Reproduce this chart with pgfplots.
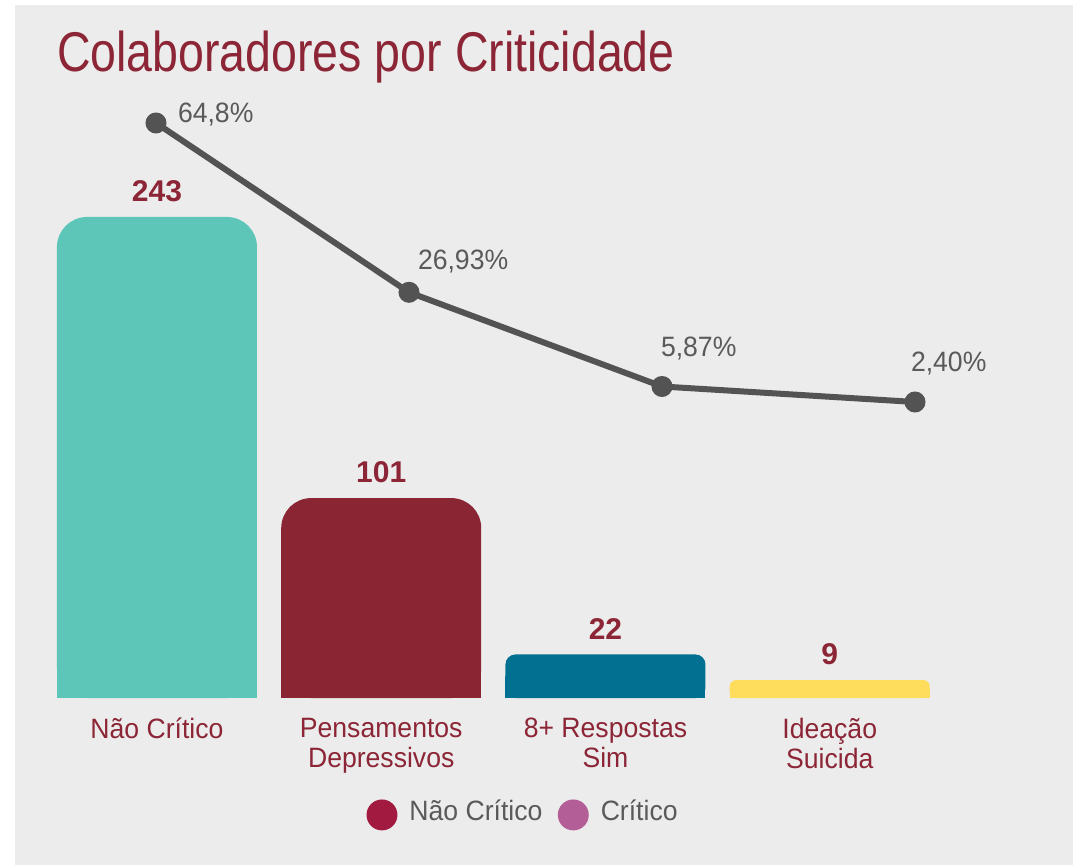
\documentclass[border=0pt]{standalone}
\usepackage{pgfplots}
\pgfplotsset{compat=1.18}
\usepackage{pgfplotstable}
\usepackage{fontspec}
\setmainfont{Liberation Sans}
\newfontfamily\titlefont[FakeStretch=0.83]{Liberation Sans}
\newfontfamily\labfont[FakeStretch=0.95]{Liberation Sans}

\definecolor{bggray}{HTML}{ECECEC}
\definecolor{titlered}{HTML}{8C2636}
\definecolor{barteal}{HTML}{5DC6B8}
\definecolor{barred}{HTML}{8A2633}
\definecolor{barblue}{HTML}{027090}
\definecolor{baryellow}{HTML}{FFDD5C}
\definecolor{linegray}{HTML}{535353}
\definecolor{pctgray}{HTML}{5A5A5A}
\definecolor{legred}{HTML}{A31A41}
\definecolor{legpink}{HTML}{B35E96}

\pgfplotstableread{
x y lbl dx dy
0 64.8 64,8 19 0
1 26.93 26,93 6 23
2 5.87 5,87 -4 30
3 2.40 2,40 -7 30
}\linetab

\begin{document}
\begin{tikzpicture}[x=0.75pt,y=0.75pt]
\useasboundingbox (0,0) rectangle (1076,865);
\fill[white] (0,0) rectangle (1076,865);
\fill[bggray] (15,0) rectangle (1073,860);
\node[anchor=base west, inner sep=0pt, text=titlered, font=\titlefont\fontsize{42}{48}\selectfont] at (57,793) {Colaboradores por Criticidade};

\begin{axis}[
  at={(33.64pt,125.25pt)}, anchor=south west,
  scale only axis, width=672.75pt, height=360.75pt,
  xmin=-0.5, xmax=3.5, ymin=0, ymax=243,
  axis line style={draw=none}, major tick length=0pt,
  ytick=\empty, xtick={0,1,2,3},
  xticklabels={N\~ao Cr\'itico, {Pensamentos\\Depressivos}, {8+ Respostas\\Sim}, {Idea\c{c}\~ao\\Suicida}},
  xticklabel style={align=center, inner sep=0pt, anchor=north, yshift=-15pt, text=titlered, font=\labfont\fontsize{21}{22.5}\selectfont},
  clip=false,
  /pgf/number format/assume math mode=true,
  legend columns=2,
  legend image code/.code={\fill[#1, draw=none] (0pt,-3pt) circle (11.6pt);},
  legend style={at={(0.5335,-0.2405)}, anchor=center, draw=none, fill=none, inner sep=0pt,
    column sep=7pt, /tikz/every even column/.append style={column sep=9.5pt},
    font=\labfont\fontsize{21}{22.5}\selectfont, text=pctgray},
]
% rounded bars
\addplot[ybar, forget plot, bar width=0.892, bar shift=0pt, draw=none, fill=barteal, rounded corners=22.5pt,
  nodes near coords, nodes near coords style={anchor=south, inner sep=0pt, yshift=11.25pt, text=titlered, font=\bfseries\fontsize{22.5}{27}\selectfont}]
  coordinates {(0,243)};
\addplot[ybar, forget plot, bar width=0.892, bar shift=0pt, draw=none, fill=barteal, y filter/.expression={y/2}]
  coordinates {(0,243)};
\addplot[ybar, forget plot, bar width=0.892, bar shift=0pt, draw=none, fill=barred, rounded corners=22.5pt,
  nodes near coords, nodes near coords style={anchor=south, inner sep=0pt, yshift=11.25pt, text=titlered, font=\bfseries\fontsize{22.5}{27}\selectfont}]
  coordinates {(1,101)};
\addplot[ybar, forget plot, bar width=0.892, bar shift=0pt, draw=none, fill=barred, y filter/.expression={y/2}]
  coordinates {(1,101)};
\addplot[ybar, forget plot, bar width=0.892, bar shift=0pt, draw=none, fill=barblue, rounded corners=7.5pt,
  nodes near coords, nodes near coords style={anchor=south, inner sep=0pt, yshift=11.25pt, text=titlered, font=\bfseries\fontsize{22.5}{27}\selectfont}]
  coordinates {(2,22)};
\addplot[ybar, forget plot, bar width=0.892, bar shift=0pt, draw=none, fill=barblue, y filter/.expression={y/2}]
  coordinates {(2,22)};
\addplot[ybar, forget plot, bar width=0.892, bar shift=0pt, draw=none, fill=baryellow, rounded corners=4.5pt,
  nodes near coords, nodes near coords style={anchor=south, inner sep=0pt, yshift=11.25pt, text=titlered, font=\bfseries\fontsize{22.5}{27}\selectfont}]
  coordinates {(3,9)};
\addplot[ybar, forget plot, bar width=0.892, bar shift=0pt, draw=none, fill=baryellow, y filter/.expression={y/2}]
  coordinates {(3,9)};
\addlegendimage{fill=legred}
\addlegendentry{N\~ao Cr\'itico}
\addlegendimage{fill=legpink}
\addlegendentry{Cr\'itico}
\end{axis}

\begin{axis}[
  at={(117pt,339.2pt)}, anchor=south west,
  scale only axis, width=569.25pt, height=217.3pt,
  xmin=0, xmax=3, ymin=0, ymax=64.8,
  hide axis, clip=false,
]
\addplot[linegray, line width=4.5pt, mark=*, mark size=5.6pt, mark options={draw=none, fill=linegray},
  point meta=explicit symbolic,
  visualization depends on={\thisrow{dx}\as\dx},
  visualization depends on={\thisrow{dy}\as\dy},
  nodes near coords={\pgfplotspointmeta\%},
  nodes near coords style={anchor=base west, inner sep=0pt, xshift=\dx*0.75pt, yshift=\dy*0.75pt, text=pctgray, font=\labfont\fontsize{21}{25}\selectfont}]
  table[x=x, y=y, meta=lbl] {\linetab};
\end{axis}
\end{tikzpicture}
\end{document}
